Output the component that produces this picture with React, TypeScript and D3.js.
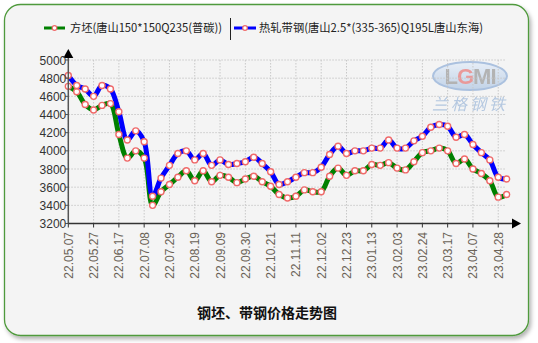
import React from "react";
import * as d3 from "d3";

const tickLabels = [
  "22.05.07", "22.05.27", "22.06.17", "22.07.08", "22.07.29", "22.08.19",
  "22.09.09", "22.09.30", "22.10.21", "22.11.11", "22.12.02", "22.12.23",
  "23.01.13", "23.02.03", "23.02.24", "23.03.17", "23.04.07", "23.04.28",
];
const yTicks = [3200, 3400, 3600, 3800, 4000, 4200, 4400, 4600, 4800, 5000];

const billetName = "方坯(唐山150*150Q235(普碳))";
const stripName = "热轧带钢(唐山2.5*(335-365)Q195L唐山东海)";

const billet = [
  4710, 4650, 4510, 4450, 4500, 4520, 4180, 3920, 4000, 3920, 3400, 3550, 3630,
  3710, 3780, 3670, 3780, 3660, 3730, 3710, 3650, 3690, 3720, 3660, 3610, 3520,
  3480, 3500, 3570, 3550, 3550, 3720, 3810, 3730, 3780, 3780, 3850, 3840, 3870,
  3810, 3790, 3880, 3980, 4000, 4030, 4000, 3860, 3910, 3800, 3750, 3670, 3490,
  3520,
];
const strip = [
  4830, 4720, 4680, 4600, 4720, 4680, 4430, 4120, 4220, 4100, 3500, 3700, 3840,
  3970, 4000, 3900, 3970, 3840, 3900, 3850, 3860, 3880, 3930, 3860, 3770, 3630,
  3660, 3710, 3760, 3760, 3820, 3960, 4050, 3970, 4000, 4000, 4030, 4030, 4120,
  4030, 4030, 4110, 4160, 4260, 4290, 4270, 4150, 4180, 4070, 3980, 3900, 3710,
  3690,
];
const TICK_EVERY = 3;

const W = 538;
const H = 343;
const x0 = 68.3;
const step = 8.43;
const x = d3.scaleLinear().domain([0, billet.length - 1]).range([x0, x0 + (billet.length - 1) * step]);
const y = d3.scaleLinear().domain([3200, 5000]).range([223.5, 60]);

const line = d3
  .line<number>()
  .x((_, i) => x(i))
  .y((d) => y(d))
  .curve(d3.curveCatmullRom.alpha(0.5));

const font = "'Liberation Sans', Arial, 'Noto Sans CJK SC', sans-serif";
const cjk = "'Noto Sans CJK SC', 'Liberation Sans', sans-serif";

export default function App() {
  const axisY = y(3200);
  const xEnd = 512;
  return (
    <svg
      width={W}
      height={H}
      style={{ position: "absolute", left: 0, top: 0, background: "#fff" }}
      fontFamily={font}
    >
      <defs>
        <filter id="sh" x="-5%" y="-5%" width="110%" height="110%">
          <feDropShadow dx="2" dy="3" stdDeviation="2" floodColor="#000" floodOpacity="0.3" />
        </filter>
        <linearGradient id="ell" x1="0" y1="0" x2="0" y2="1">
          <stop offset="0" stopColor="#e6eef8" />
          <stop offset="1" stopColor="#b9cde6" />
        </linearGradient>
      </defs>
      <rect x={4.5} y={4.5} width={524} height={331} rx={16} fill="#f4f4f4" stroke="#4f9a3c" strokeWidth={1.3} filter="url(#sh)" />

      {/* watermark */}
      <g opacity={0.85}>
        <ellipse cx={470} cy={76} rx={37} ry={14} fill="url(#ell)" stroke="#9fb9dc" strokeWidth={2} />
        <text x={470} y={84} textAnchor="middle" fontSize={22} fontWeight="bold" fill="#a8a8a8" fontFamily={font} letterSpacing={-1}>
          L<tspan fill="#e88a8a">G</tspan>MI
        </text>
        <text x={470} y={110} textAnchor="middle" fontSize={16} fill="#a9c0dd" fontFamily={cjk} fontStyle="italic" letterSpacing={3}>
          兰格钢铁
        </text>
      </g>

      {/* grid */}
      {yTicks.map((t) => (
        <line key={"gy" + t} x1={x0} x2={506} y1={y(t)} y2={y(t)} stroke="#c8c8c8" strokeDasharray="1.5,1.5" />
      ))}
      {tickLabels.map((_, k) => (
        <line key={"gx" + k} x1={x(k * TICK_EVERY)} x2={x(k * TICK_EVERY)} y1={y(5000)} y2={axisY} stroke="#c8c8c8" strokeDasharray="1.5,1.5" />
      ))}

      {/* series */}
      <path d={line(billet) || ""} fill="none" stroke="#008000" strokeWidth={5} strokeLinejoin="round" />
      <path d={line(strip) || ""} fill="none" stroke="#0000ff" strokeWidth={5} strokeLinejoin="round" />
      {billet.map((v, i) => (
        <circle key={"b" + i} cx={x(i)} cy={y(v)} r={3} fill="#fff" stroke="#f06a6a" strokeWidth={1.4} />
      ))}
      {strip.map((v, i) => (
        <circle key={"s" + i} cx={x(i)} cy={y(v)} r={3} fill="#fff" stroke="#f06a6a" strokeWidth={1.4} />
      ))}

      {/* axes */}
      <line x1={x0} x2={x0} y1={axisY} y2={56} stroke="#555" strokeWidth={1.5} />
      <path d={`M${x0 - 5},${58} L${x0 + 5},${58} L${x0},${49} Z`} fill="#000" />
      <line x1={x0} x2={xEnd} y1={axisY} y2={axisY} stroke="#333" strokeWidth={1.5} />
      <path d={`M${xEnd},${axisY - 5} L${xEnd},${axisY + 5} L${xEnd + 9},${axisY} Z`} fill="#000" />
      {yTicks.map((t) => (
        <g key={"yt" + t}>
          <line x1={x0 - 3} x2={x0} y1={y(t)} y2={y(t)} stroke="#555" />
          <text x={x0 - 2} y={y(t) + 4.5} textAnchor="end" fontSize={12} fill="#333">
            {t}
          </text>
        </g>
      ))}
      {tickLabels.map((lab, k) => {
        const tx = x(k * TICK_EVERY);
        return (
          <g key={"xt" + k}>
            <line x1={tx} x2={tx} y1={axisY} y2={axisY + 4} stroke="#333" />
            <text
              transform={`translate(${tx + 4.5},${232}) rotate(-90)`}
              textAnchor="end"
              fontSize={12}
              fill="#6b6357"
            >
              {lab}
            </text>
          </g>
        );
      })}

      {/* legend */}
      <line x1={44} x2={65} y1={28} y2={28} stroke="#008000" strokeWidth={3} />
      <circle cx={54.5} cy={28} r={2.3} fill="#fff" stroke="#f06a6a" strokeWidth={1.2} />
      <text x={70} y={32} fontSize={11.5} fill="#222" fontFamily={cjk} textLength={152} lengthAdjust="spacingAndGlyphs">
        {billetName}
      </text>
      <line x1={230.5} x2={230.5} y1={18} y2={40} stroke="#222" strokeWidth={1} />
      <line x1={234} x2={256} y1={28} y2={28} stroke="#0000ff" strokeWidth={3} />
      <circle cx={245} cy={28} r={2.3} fill="#fff" stroke="#f06a6a" strokeWidth={1.2} />
      <text x={259} y={32} fontSize={11.5} fill="#222" fontFamily={cjk} textLength={224} lengthAdjust="spacingAndGlyphs">
        {stripName}
      </text>

      {/* title */}
      <text x={267} y={318} textAnchor="middle" fontSize={14} fontWeight="bold" fill="#111" fontFamily={cjk}>
        钢坯、带钢价格走势图
      </text>
    </svg>
  );
}
